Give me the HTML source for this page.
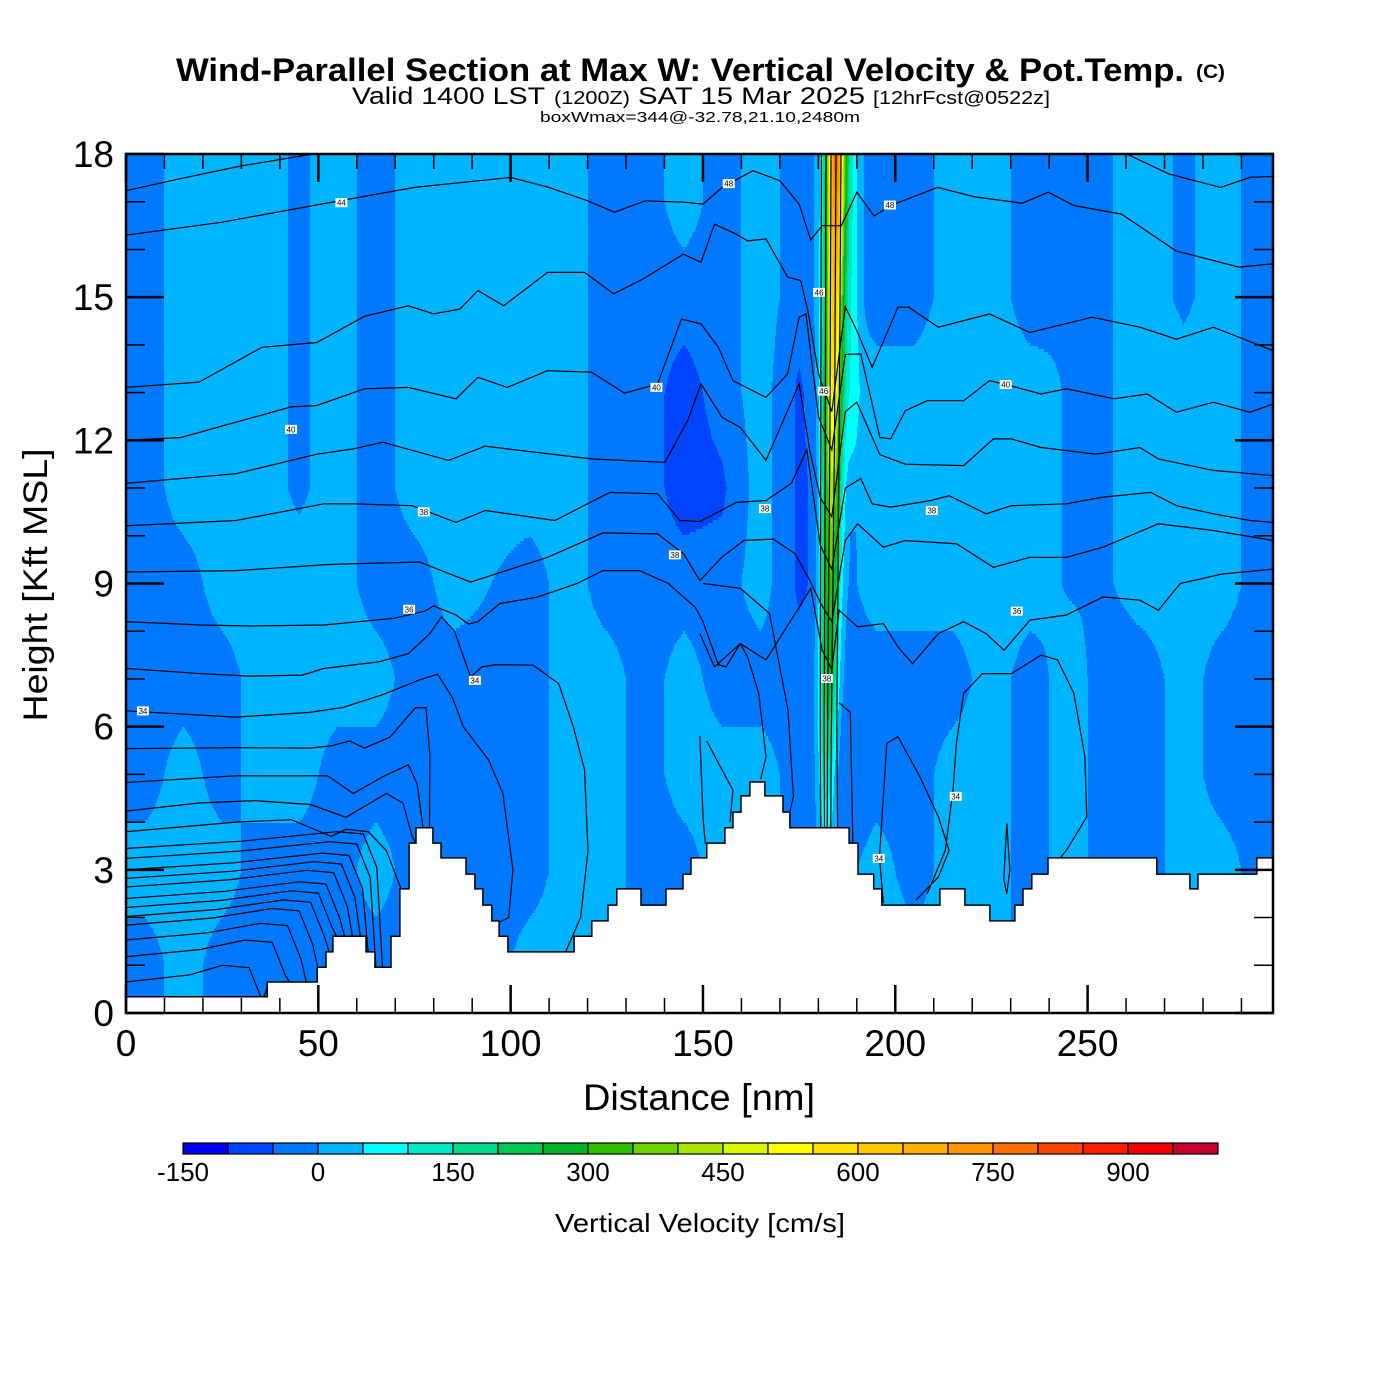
<!DOCTYPE html>
<html><head><meta charset="utf-8"><title>Wind-Parallel Section</title>
<style>
html,body{margin:0;padding:0;background:#fff;}
svg{display:block;font-family:"Liberation Sans",Arial,sans-serif;}
</style></head>
<body>
<svg id="chart" xmlns="http://www.w3.org/2000/svg" width="1400" height="1400" viewBox="0 0 1400 1400">
<rect x="0" y="0" width="1400" height="1400" fill="#fff"/>
<g>
<text x="176" y="81" font-size="32" font-weight="bold" textLength="1008" lengthAdjust="spacingAndGlyphs">Wind-Parallel Section at Max W: Vertical Velocity &amp; Pot.Temp.</text>
<text x="1196" y="78" font-size="19" font-weight="bold" textLength="29" lengthAdjust="spacingAndGlyphs">(C)</text>
<text x="352" y="104" font-size="24" textLength="193" lengthAdjust="spacingAndGlyphs">Valid 1400 LST</text>
<text x="554" y="104" font-size="18" textLength="76" lengthAdjust="spacingAndGlyphs">(1200Z)</text>
<text x="638" y="104" font-size="24" textLength="227" lengthAdjust="spacingAndGlyphs">SAT 15 Mar 2025</text>
<text x="873" y="104" font-size="18" textLength="177" lengthAdjust="spacingAndGlyphs">[12hrFcst@0522z]</text>
<text x="540" y="122" font-size="15" textLength="320" lengthAdjust="spacingAndGlyphs">boxWmax=344@-32.78,21.10,2480m</text>
</g>
<defs><clipPath id="plotclip"><rect x="126" y="154" width="1147" height="859"/></clipPath></defs>
<g id="field" clip-path="url(#plotclip)"></g>
<g id="contours" clip-path="url(#plotclip)"></g>
<g id="terrain" clip-path="url(#plotclip)"></g>
<g id="labels" clip-path="url(#plotclip)"></g>
<g id="axes"></g>
<g id="colorbar"></g>
<text x="699" y="1110" font-size="37" text-anchor="middle" textLength="232" lengthAdjust="spacingAndGlyphs">Distance [nm]</text>
<text transform="translate(47,585) rotate(-90)" font-size="34" text-anchor="middle" textLength="273" lengthAdjust="spacingAndGlyphs">Height [Kft MSL]</text>
<text x="700" y="1232" font-size="26" text-anchor="middle" textLength="290" lengthAdjust="spacingAndGlyphs">Vertical Velocity [cm/s]</text>
</svg>
<script>
// ---------- data ----------
var gridX = [5,15,25,35,45,55,65,75,85,95,105,115,125,135,145,155,165,175,185,195,205,215,225,235,245,255,265,275,285,295];
var gridH = [17,15,13,11,9,7,5,3,1];
var gridW = [
[-25,-25,-25,-25,-25,-25,-25,25,-25],
[25,25,25,25,-25,-25,25,25,25],
[25,25,25,25,25,-25,-25,25,-25],
[25,25,25,25,25,25,25,-25,-25],
[-10,-10,-10,-10,25,25,25,-25,-25],
[25,25,25,25,25,25,-25,-25,-25],
[-25,-25,-25,-25,-25,25,-25,25,-25],
[25,25,25,25,-25,-25,-25,-25,-25],
[25,25,25,25,25,-25,-25,-25,-25],
[25,25,25,25,0,-25,-25,-25,-25],
[25,25,25,25,-25,-25,-25,-25,25],
[25,25,25,25,25,25,25,25,25],
[-25,-25,-25,-25,-25,25,25,25,25],
[-25,-25,-25,-25,-25,-25,-25,-25,-25],
[25,-25,-75,-75,-25,25,25,-25,-25],
[-25,-25,-25,-60,-25,-25,25,25,25],
[25,25,25,25,25,-25,25,25,25],
[-25,-25,-60,-60,-60,-25,-25,-25,-25],
[25,25,25,-25,-25,-25,-55,-25,-25],
[-25,-25,25,25,25,-25,-25,25,25],
[-25,-25,25,25,25,-25,-25,-25,25],
[25,25,25,25,25,-25,25,25,25],
[25,25,25,25,25,25,25,25,25],
[-25,-25,25,25,25,-25,-25,-25,-25],
[-5,-5,-5,-5,-5,25,25,25,25],
[-5,-5,-5,-5,-5,-25,-25,-25,-25],
[25,25,25,25,25,-25,-25,-25,-25],
[-10,-10,25,25,25,25,25,25,25],
[25,25,25,25,25,-25,-25,25,25],
[-25,-25,-25,-25,-25,-25,-25,-25,-25]
];
var updraftH = [3.9,5,6,7,8,9,10,11,12,13,14,15,16,17,18];
var updraftPeak = [100,180,230,280,320,370,420,460,500,540,580,620,670,720,760];
var updraftCenter = [182.2,182.3,182.5,182.7,182.9,183.1,183.3,183.5,183.6,183.8,184.0,184.2,184.4,184.5,184.6];
var shoulderAmp = [0,0,0,0,0,0,0,20,45,55,60,60,60,60,60];
var terrainEnd = [36.7,49.7,52.0,53.8,62.4,64.7,68.9,71.2,73.6,75.4,79.8,81.9,88.4,90.7,92.8,95.1,97.0,99.3,116.5,121.1,125.3,127.6,133.9,140.4,144.8,146.9,151.0,155.7,157.8,159.9,162.2,166.1,170.8,172.6,188.0,190.3,194.4,196.5,211.6,218.1,224.6,231.1,233.2,235.5,239.7,268.0,276.6,278.7,294.0,298.2];
var terrainH = [0.34,0.65,0.96,1.28,1.61,1.28,0.96,1.61,2.6,3.56,3.88,3.56,3.25,2.91,2.6,2.26,1.93,1.61,1.28,1.61,1.93,2.26,2.6,2.26,2.6,2.91,3.25,3.56,3.88,4.21,4.55,4.84,4.55,4.21,3.88,3.56,2.91,2.6,2.26,2.6,2.26,1.93,2.26,2.6,2.91,3.25,2.91,2.6,2.91,3.25];
var colorLevels = [-150,-100,-50,0,50,100,150,200,250,300,350,400,450,500,550,600,650,700,750,800,850,900,950,1000];
var colorFills = ['#0000f0','#0044ff','#0078ff','#00b4ff','#00ffff','#00e6c8','#00dc8c','#00c850','#00b428','#32be00','#6ed200','#aae600','#dcf500','#ffff00','#ffe100','#ffc800','#ffaf00','#ff9600','#ff6e00','#ff4600','#ff1e00','#f00000','#c8002d'];
var colorTicks = [-150,0,150,300,450,600,750,900];
var xTicks = [0,50,100,150,200,250];
var yTicks = [0,3,6,9,12,15,18];
var thetaLines = [
[[0,17.23],[15,17.5],[30,17.75],[45,17.95],[55,18.1]],
[[258.8,18.05],[271.2,17.58],[284.6,17.3],[292.2,17.51],[298.2,17.53]],
[[0,16.3],[25,16.57],[50,16.94],[75,17.3],[100,17.51],[110,17.3],[120,17.02],[127,16.78],[135,17.02],[145,16.99],[150,16.95],[155,17.3],[163,17.65],[170,17.44],[175,16.95],[178,16.2],[181,16.5],[186,16.5],[190,17.2],[194.5,16.7],[198.8,16.92],[211,17.3],[220.7,17.1],[233,16.97],[239.8,17.2],[246.4,16.92],[258.8,16.74],[273,15.97],[289.3,15.63],[298.2,15.7]],
[[0,13.11],[19,13.22],[35.3,13.95],[49.6,14.05],[62,14.6],[73.4,14.82],[80,14.65],[86.8,14.75],[91.5,15.14],[98.2,14.82],[109.6,15.52],[119.2,15.52],[126.8,15.07],[134.4,15.38],[144.9,15.9],[149.5,15.73],[153,16.53],[158.7,16.32],[161.6,16.18],[166.4,16.22],[172,15.42],[175.4,15.35],[177.3,14.7],[180,13.4],[183.5,12.6],[187,14.8],[190,14.3],[194,13.53],[200.7,14.79],[203.5,14.79],[211.2,14.37],[224.5,14.65],[235,14.26],[251.2,14.58],[263.6,14.37],[273.1,14.12],[282.7,14.37],[298.2,13.88]],
[[0,12.0],[14.3,12.06],[42.9,12.7],[49.6,12.73],[62,13.08],[73.4,13.11],[85.8,12.87],[91.5,13.32],[99.1,13.11],[109.6,13.46],[121,13.43],[129.6,12.99],[138.2,13.18],[144.4,14.54],[149.5,14.44],[154,13.95],[157.8,13.25],[166.4,12.9],[172,13.39],[175,14.58],[176.8,14.65],[180,12.5],[183.5,11.8],[187,13.8],[191,13.81],[196,12.06],[198.8,12.03],[202.6,12.62],[208.3,12.83],[217.8,12.83],[224.5,13.25],[228.3,13.18],[237.9,12.97],[244.5,13.08],[256.9,12.87],[265.5,12.97],[273.1,12.59],[282.7,12.8],[292.2,12.59],[298.2,12.76]],
[[0,11.1],[28.6,11.3],[49.6,11.71],[59.1,11.82],[66.7,11.96],[83.9,11.58],[93.4,11.88],[99.1,11.82],[121,11.61],[140.1,11.54],[146,12.41],[149.5,13.18],[155,12.48],[159.7,12.27],[166.4,11.58],[175,13.18],[177.8,11.78],[180.5,10.8],[183.5,10.4],[187,12.6],[190,12.8],[196,11.7],[202.6,11.5],[217.8,11.47],[225.5,12.03],[230.2,12.03],[237.9,11.85],[252.2,11.71],[263.6,11.85],[268.4,11.61],[282.7,11.37],[298.2,11.26]],
[[0,10.21],[28.6,10.32],[51.5,10.67],[59.1,10.67],[74.4,10.63],[85.8,10.28],[93.4,10.53],[111.5,10.32],[125.8,10.91],[138.2,10.88],[144,10.32],[149.2,10.3],[158.7,10.7],[166.4,10.74],[173,11.1],[177,11.8],[180.5,9.8],[183.5,9.3],[187,11.0],[191,11.2],[194,10.67],[198.8,10.6],[209.3,10.74],[214,10.84],[223.6,10.46],[230.2,10.63],[244.5,10.67],[254,10.81],[266.4,10.91],[273.1,10.63],[282.7,10.46],[292.2,10.32],[298.2,10.28]],
[[0,9.24],[28.6,9.27],[53.4,9.4],[76.3,9.45],[89.6,9.03],[109.6,9.55],[124,10.06],[138.2,10.04],[145,9.62],[149.2,9.06],[154.9,9.55],[160.6,9.9],[168.3,9.93],[174,9.62],[177.8,9.06],[180.5,8.6],[183.5,8.2],[187,9.9],[190.2,10.25],[196.9,9.76],[202.6,9.9],[216,9.83],[225.5,9.34],[235,9.55],[244.5,9.55],[254,9.76],[268.4,10.25],[282.7,10.11],[298.2,9.9]],
[[0,8.2],[19.6,8.13],[32.4,8.11],[51.5,8.13],[69.6,8.27],[77.7,8.42],[80,8.53],[85.8,8.34],[89.1,8.15],[91.5,8.2],[97.2,8.58],[106.8,8.71],[117.3,9.0],[124,9.27],[133.5,9.27],[141,9.0],[148,8.5],[150,8.2],[154,7.3],[156,7.25],[159.7,7.74],[166.4,7.4],[175,8.5],[178,8.9],[181,7.6],[183.5,7.2],[185.4,8.44],[190.2,8.09],[196.9,8.16],[200.7,7.67],[204.5,7.32],[211.2,7.95],[217.8,8.2],[223.6,7.95],[228.3,7.6],[235,8.23],[244.5,8.34],[254,8.72],[263.6,8.65],[268.4,8.44],[274.1,9.0],[285,9.2],[298.2,9.3]],
[[0,7.22],[19.6,7.11],[32.4,7.06],[45.8,7.08],[51.5,7.22],[65.8,7.36],[73.4,7.53],[79,7.95],[82,8.3],[85.4,8.0],[89.6,7.04],[92.5,7.25],[96.2,7.3],[105.8,7.29],[112.5,6.9],[116.3,6.0],[119.2,5.1],[120.1,3.4],[118.2,2.0],[114.4,1.3]],
[[0,6.33],[28.6,6.2],[47.7,6.3],[56.3,6.4],[66.7,6.67],[76.3,6.98],[81,7.1],[84.9,6.6],[87.7,6.0],[94.3,5.3],[98,4.6],[100.6,3.0],[99.5,2.0],[97,1.9]],
[[0,5.54],[28.6,5.56],[47.7,5.55],[53.4,5.6],[58.1,5.7],[62,5.55],[68.6,5.78],[75.3,6.4],[78,6.4],[79,5.4],[78.9,3.9]],
[[0,4.83],[28.6,4.97],[52.4,4.97],[59.1,4.6],[66.7,4.95],[73.4,5.2],[75.7,4.8],[77.2,3.9]],
[[0,4.23],[19,4.4],[33.4,4.45],[48,4.37],[57.2,4.1],[67.7,4.6],[72,4.4],[74.4,3.7],[75.4,3.56]],
[[0,3.8],[28.6,4.0],[43,4.05],[53.4,3.7],[57.2,3.85],[63,3.8],[67.7,3.4],[71.5,2.6]],
[[208.3,2.5],[213,3.41],[215,4.67],[215.9,5.65],[217.8,6.7],[222.6,7.11],[230.2,7.11],[237.9,7.5],[242.2,7.4],[246.4,6.7],[249.3,5.37],[249.8,4.11],[244.5,3.41],[240,2.95]],
[[196.9,2.3],[195.9,3.27],[197.8,5.65],[200.7,5.79],[206.4,4.95],[211.2,4.11],[214,3.41],[211.2,2.85],[205.4,2.37]],
[[149.2,7.95],[153,7.25],[159.7,7.74],[161.6,7.46],[164.5,6.7],[166.4,5.37],[165,4.9]],
[[150,9.0],[159.7,8.9],[167.3,8.37],[172.1,6.35],[173.5,4.53],[172.6,4.22]],
[[151,5.7],[155.9,4.95],[157.8,4.67],[157,4.0]],
[[149.2,5.8],[150,4.1],[150.6,3.55]],
[[185.4,6.5],[188.3,6.3],[189.2,2.7]],
[[229,3.97],[228.2,2.8],[229,2.5],[229.8,3.0],[229,3.97]],
[[180.8,18],[180.6,12],[180.5,6],[180.6,3.9]],
[[182.0,18],[181.8,12],[181.5,6],[181.6,3.9]],
[[183.3,18],[183.0,12],[182.4,6],[182.3,3.9]],
[[184.6,18],[184.2,12],[183.4,6],[183.2,3.9]],
[[185.9,18],[185.4,12],[184.8,6],[185.0,3.9]]
];
var fanH = [3.45,3.24,3.0,2.82,2.64,2.4,2.21,2.02,1.84,1.53,1.18,0.65];
var fanEnd = [66.7,65,63,61,59,57,55,53,50,47,43,37];
var labelText = ['44','48','48','46','40','40','46','40','38','38','38','38','36','36','34','34','38','34','34'];
var labelX = [56.0,156.7,198.6,180.2,42.9,137.9,181.4,228.7,77.4,166.1,209.5,142.7,73.6,231.6,4.4,90.7,182.2,215.7,195.7];
var labelH = [16.98,17.38,16.93,15.1,12.23,13.11,13.03,13.17,10.5,10.57,10.53,9.6,8.46,8.42,6.33,6.97,7.01,4.54,3.24];

// ---------- scales ----------
var PX0 = 126, PX1 = 1273, PY0 = 154, PY1 = 1013, XMAX = 298.2, HMAX = 18;
function X(nm){ return PX0 + nm * (PX1 - PX0) / XMAX; }
function Y(k){ return PY1 - k * (PY1 - PY0) / HMAX; }
function invX(px){ return (px - PX0) * XMAX / (PX1 - PX0); }
function invY(py){ return (PY1 - py) * HMAX / (PY1 - PY0); }
var NS = 'http://www.w3.org/2000/svg';
function mk(tag, attrs, parent){ var e = document.createElementNS(NS, tag); for (var k in attrs) e.setAttribute(k, attrs[k]); parent.appendChild(e); return e; }
function interp(arr, xs, v){
  if (v <= xs[0]) return arr[0];
  for (var i = 1; i < xs.length; i++) if (v <= xs[i]) { var t = (v - xs[i-1]) / (xs[i] - xs[i-1]); return arr[i-1] + t * (arr[i] - arr[i-1]); }
  return arr[arr.length - 1];
}
function gridVal(nm, k){
  var fx = (nm - gridX[0]) / 10; fx = Math.max(0, Math.min(gridX.length - 1, fx));
  var fy = (gridH[0] - k) / 2; fy = Math.max(0, Math.min(gridH.length - 1, fy));
  var i0 = Math.floor(fx), i1 = Math.min(gridX.length - 1, i0 + 1), tx = fx - i0;
  var j0 = Math.floor(fy), j1 = Math.min(gridH.length - 1, j0 + 1), ty = fy - j0;
  var a = gridW[i0][j0] * (1 - ty) + gridW[i0][j1] * ty;
  var b = gridW[i1][j0] * (1 - ty) + gridW[i1][j1] * ty;
  return a * (1 - tx) + b * tx;
}
function wAt(nm, k){
  var w = gridVal(nm, k);
  if (k >= updraftH[0] - 0.3) {
    var p = interp(updraftPeak, updraftH, k), c = interp(updraftCenter, updraftH, k), s = interp(shoulderAmp, updraftH, k);
    if (k < updraftH[0]) p *= (k - (updraftH[0] - 0.3)) / 0.3;
    var d = (nm - c) / 1.8; w += p * Math.exp(-0.5 * d * d);
    var d2 = (nm - 189) / 1.4; w += s * Math.exp(-0.5 * d2 * d2);
  }
  return w;
}
function binOf(w){ var i = Math.floor((w - colorLevels[0]) / 50); return Math.max(0, Math.min(colorFills.length - 1, i)); }

// ---------- field ----------
var field = document.getElementById('field');
var ROWH = 3;
for (var py = PY0; py < PY1; py += ROWH) {
  var k = invY(py + ROWH / 2);
  var runStart = PX0, runBin = -1;
  for (var px = PX0; px <= PX1; px++) {
    var b = px < PX1 ? binOf(wAt(invX(px + 0.5), k)) : -2;
    if (b !== runBin) {
      if (runBin >= 0) {
        var r = mk('rect', {x: runStart, y: py, width: px - runStart + 0.6, height: ROWH + 0.6, fill: colorFills[runBin]}, field);
        
        
      }
      runStart = px; runBin = b;
    }
  }
}

// ---------- contours ----------
var cg = document.getElementById('contours');
function terrainAt(nm){ for (var i = 0; i < terrainEnd.length; i++) if (nm <= terrainEnd[i]) return terrainH[i]; return terrainH[terrainH.length - 1]; }
thetaLines.forEach(function(line){
  var pts = line.map(function(p){ return X(p[0]).toFixed(1) + ',' + Y(p[1]).toFixed(1); }).join(' ');
  var pl = mk('polyline', {points: pts, fill: 'none', stroke: '#000', 'stroke-width': 1.2}, cg);
  
  
});
fanH.forEach(function(h, i){
  var e = fanEnd[i];
  var pts = [[0, h], [e * 0.45, h + 0.15], [e - 12, h + 0.35], [e - 5, h + 0.3], [e - 1.5, h - 0.4], [e, terrainAt(e) - 0.05]];
  var s = pts.map(function(p){ return X(p[0]).toFixed(1) + ',' + Y(p[1]).toFixed(1); }).join(' ');
  var pl = mk('polyline', {points: s, fill: 'none', stroke: '#000', 'stroke-width': 1.2}, cg);
  
  
});

// ---------- terrain ----------
var tg = document.getElementById('terrain');
var d = 'M' + X(0) + ',' + (PY1 + 5) + ' L' + X(0) + ',' + Y(terrainH[0]).toFixed(1);
for (var i = 0; i < terrainEnd.length; i++) {
  d += ' L' + X(terrainEnd[i]).toFixed(1) + ',' + Y(terrainH[i]).toFixed(1);
  if (i + 1 < terrainEnd.length) d += ' L' + X(terrainEnd[i]).toFixed(1) + ',' + Y(terrainH[i + 1]).toFixed(1);
}
d += ' L' + (PX1 + 5) + ',' + Y(terrainH[terrainH.length - 1]).toFixed(1) + ' L' + (PX1 + 5) + ',' + (PY1 + 5) + ' Z';
var tp = mk('path', {d: d, fill: '#fff', stroke: '#000', 'stroke-width': 1.5}, tg);



// ---------- contour labels ----------
var lg = document.getElementById('labels');
labelText.forEach(function(t, i){
  var cx = X(labelX[i]), cy = Y(labelH[i]);
  var r = mk('rect', {x: cx - 6, y: cy - 4.5, width: 12, height: 9, fill: '#fff'}, lg);
  
  
  var tx = mk('text', {x: cx, y: cy + 3, 'font-size': 8, 'text-anchor': 'middle', fill: '#000'}, lg);
  tx.textContent = t;
  
  
});

// ---------- axes ----------
var ag = document.getElementById('axes');
for (var nm = 0; nm <= 290; nm += 10) {
  var major = nm % 50 === 0, len = major ? 28 : 15, x = X(nm);
  var t1 = mk('line', {x1: x, y1: PY1, x2: x, y2: PY1 - len, stroke: '#000', 'stroke-width': major ? 2.5 : 1.5}, ag);
  
  
  var t2 = mk('line', {x1: x, y1: PY0, x2: x, y2: PY0 + len, stroke: '#000', 'stroke-width': major ? 2.5 : 1.5}, ag);
  
  
}
for (var kk = 0; kk <= 18; kk++) {
  var maj = kk % 3 === 0, ln = maj ? 38 : 19, y = Y(kk);
  var t3 = mk('line', {x1: PX0, y1: y, x2: PX0 + ln, y2: y, stroke: '#000', 'stroke-width': maj ? 2.5 : 1.5}, ag);
  
  
  var t4 = mk('line', {x1: PX1, y1: y, x2: PX1 - ln, y2: y, stroke: '#000', 'stroke-width': maj ? 2.5 : 1.5}, ag);
  
  
}
var fr = mk('rect', {x: PX0, y: PY0, width: PX1 - PX0, height: PY1 - PY0, fill: 'none', stroke: '#000', 'stroke-width': 2.5}, ag);


xTicks.forEach(function(v){
  var t = mk('text', {x: X(v), y: 1056, 'font-size': 37, 'text-anchor': 'middle'}, ag);
  t.textContent = v;
  
  
});
yTicks.forEach(function(v){
  var t = mk('text', {x: 114, y: Y(v) + 13, 'font-size': 37, 'text-anchor': 'end'}, ag);
  t.textContent = v;
  
  
});

// ---------- colorbar ----------
var cb = document.getElementById('colorbar');
var CB0 = 183, CBW = 45, CBY = 1143, CBH = 11;
function CX(v){ return CB0 + (v - colorLevels[0]) / 50 * CBW; }
colorFills.forEach(function(c, i){
  var r = mk('rect', {x: CX(colorLevels[i]), y: CBY, width: CBW, height: CBH, fill: c, stroke: '#000', 'stroke-width': 1.2}, cb);
  
  
});
colorTicks.forEach(function(v){
  var t = mk('text', {x: CX(v), y: 1181, 'font-size': 26, 'text-anchor': 'middle'}, cb);
  t.textContent = v;
  
  
});
</script>
</body></html>
